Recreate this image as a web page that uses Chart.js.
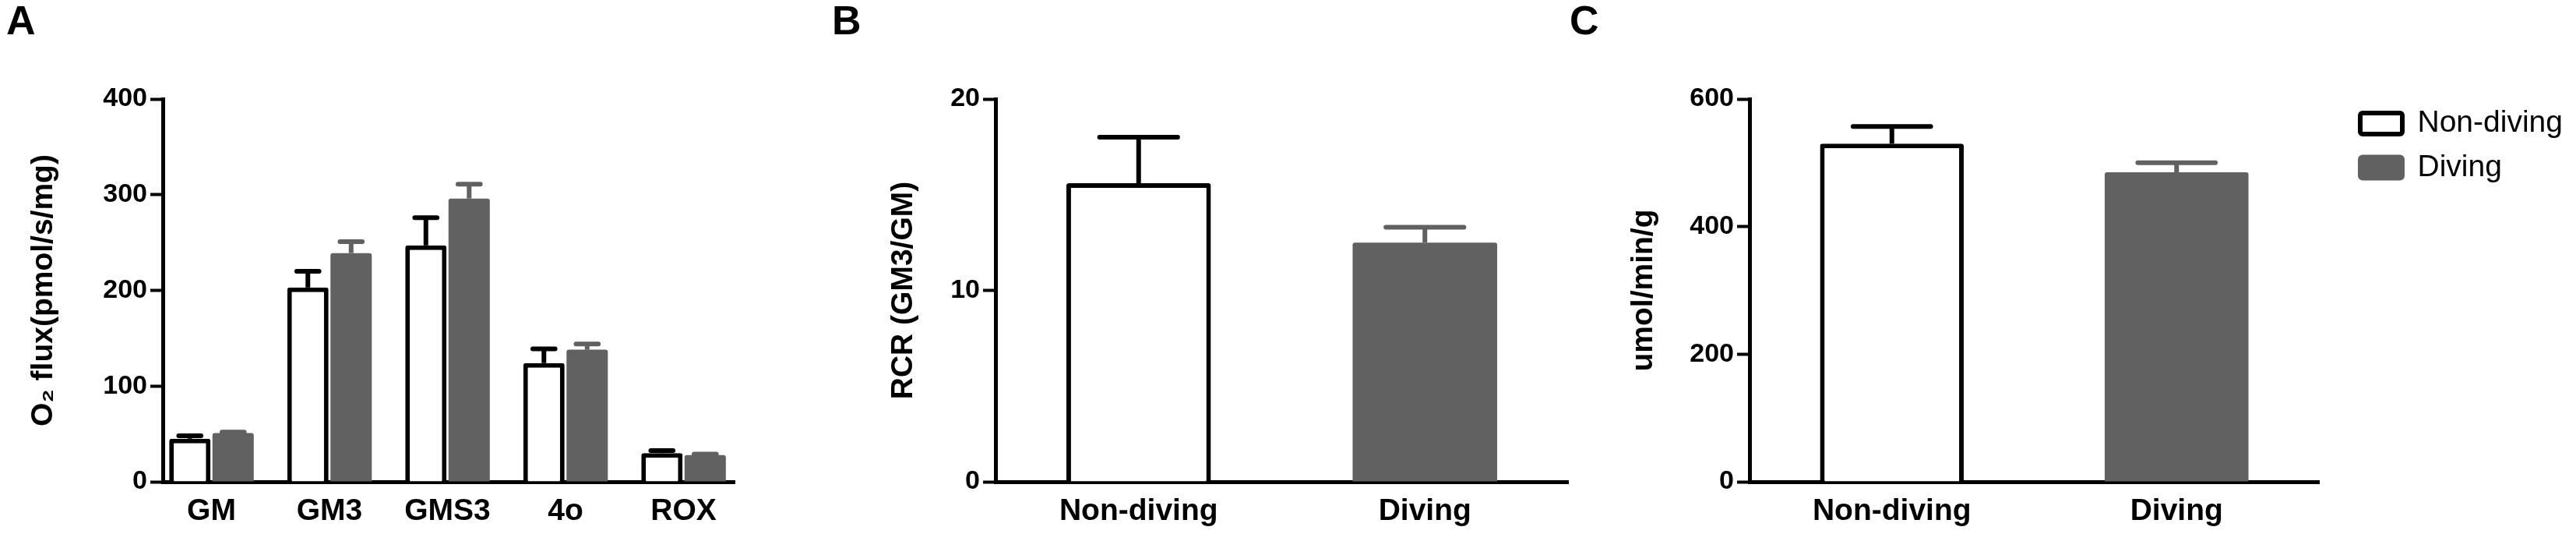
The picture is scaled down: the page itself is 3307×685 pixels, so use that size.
<!DOCTYPE html>
<html>
<head>
<meta charset="utf-8">
<title>Mitochondrial respiration</title>
<script src="https://cdn.jsdelivr.net/npm/chart.js@4.4.0/dist/chart.umd.min.js"></script>
<style>
  body { margin: 0; background: #fff; }
  #wrap { position: relative; width: 3307px; height: 685px; overflow: hidden; }
  .panel { position: absolute; top: 0; height: 685px; }
</style>
</head>
<body>
<div id="wrap">
  <div class="panel" style="left:0;width:1000px"><canvas id="fluxchart"></canvas></div>
  <div class="panel" style="left:1060px;width:1000px"><canvas id="rcrchart"></canvas></div>
  <div class="panel" style="left:2007px;width:1300px"><canvas id="ratechart"></canvas></div>
</div>
<script>
// values
var categories = ['GM', 'GM3', 'GMS3', '4o', 'ROX'];
var groups = ['Non-diving', 'Diving'];

var fluxNonDiving = [45, 203, 247, 124, 30];
var fluxNonDivingErr = [3, 17, 29, 15, 2.5];
var fluxDiving = [51, 239, 296, 138, 28];
var fluxDivingErr = [1, 12, 15, 6, 1];

var rcr = [15.6, 12.5];
var rcrErr = [2.4, 0.8];

var rate = [530, 485];
var rateErr = [27, 15];

var fluxTicks = [0, 100, 200, 300, 400];
var rcrTicks = [0, 10, 20];
var rateTicks = [0, 200, 400, 600];

var gray = '#616161';
var fontFamily = "'Liberation Sans', Arial, Helvetica, sans-serif";

Chart.defaults.font.family = fontFamily;
Chart.defaults.color = '#000';

var styles = [
  { backgroundColor: '#ffffff', borderColor: '#000', borderWidth: 6, errorColor: '#000' },
  { backgroundColor: gray, borderColor: gray, borderWidth: 0, errorColor: gray }
];

// upward-only error bars, drawn through the y scale
var errorBars = {
  id: 'errorBars',
  afterDatasetsDraw: function (chart) {
    var ctx = chart.ctx, yScale = chart.scales.y;
    chart.data.datasets.forEach(function (ds, i) {
      if (!ds.errors) return;
      chart.getDatasetMeta(i).data.forEach(function (bar, j) {
        var v = ds.data[j];
        if (v && typeof v === 'object') v = v.y;
        if (v == null || ds.errors[j] == null) return;
        var top = yScale.getPixelForValue(v + ds.errors[j]);
        var half = bar.width * 0.27;
        ctx.save();
        ctx.strokeStyle = ds.errorColor;
        ctx.lineWidth = 6;
        ctx.beginPath();
        ctx.moveTo(bar.x, bar.y);
        ctx.lineTo(bar.x, top);
        ctx.stroke();
        ctx.lineCap = 'round';
        ctx.beginPath();
        ctx.moveTo(bar.x - half, top);
        ctx.lineTo(bar.x + half, top);
        ctx.stroke();
        ctx.restore();
      });
    });
  }
};

// push the legend a bit away from the plot, like the original
var legendNudge = {
  id: 'legendNudge',
  afterLayout: function (chart) {
    var lg = chart.legend;
    if (!lg || !lg.options.display) return;
    lg.left += 35.5;
    lg.right = chart.width;
    lg.width = lg.right - lg.left;
    lg.top -= 5.5;
    lg.bottom -= 5.5;
  }
};

function panelTitle(letter) {
  return {
    display: true, text: letter, align: 'start', color: '#000',
    font: { size: 52, weight: 'bold', lineHeight: 1 },
    padding: { top: 4, bottom: 71 }
  };
}

function tickSetter(list) {
  return function (scale) {
    scale.ticks = list.map(function (v) { return { value: v }; });
  };
}

function yScale(list, title, titlePad, width) {
  return {
    min: list[0], max: list[list.length - 1],
    afterBuildTicks: tickSetter(list),
    ticks: { font: { size: 34, weight: 'bold' }, padding: 4, color: '#000' },
    grid: { drawOnChartArea: false, tickLength: 16, tickWidth: 4, tickColor: '#000' },
    border: { color: '#000', width: 5 },
    title: { display: true, text: title, color: '#000', font: { size: 39, weight: 'bold' }, padding: { top: titlePad, bottom: 0 } },
    afterFit: function (s) { s.width = width; }
  };
}

var xTicks = { font: { size: 39, weight: 'bold' }, padding: 15, color: '#000', autoSkip: false, maxRotation: 0 };

function pairDatasets(values, errs) {
  return groups.map(function (g, k) {
    return Object.assign({
      label: g,
      data: values.map(function (v, i) { return i === k ? v : null; }),
      errors: errs.map(function (e, i) { return i === k ? e : null; }),
      grouped: false,
      categoryPercentage: 1,
      barPercentage: 0.505,
      borderRadius: 3
    }, styles[k]);
  });
}

var baseOpts = {
  devicePixelRatio: 1,
  responsive: true,
  maintainAspectRatio: false,
  animation: false,
  events: []
};

// A: O2 flux
var fluxSets = [fluxNonDiving, fluxDiving];
var fluxErrs = [fluxNonDivingErr, fluxDivingErr];
new Chart(document.getElementById('fluxchart'), {
  type: 'bar',
  data: {
    datasets: groups.map(function (g, k) {
      return Object.assign({
        label: g,
        data: fluxSets[k].map(function (v, i) { return { x: i, y: v }; }),
        errors: fluxErrs[k],
        categoryPercentage: 0.733,
        barPercentage: 0.955,
        borderRadius: 3
      }, styles[k]);
    })
  },
  options: Object.assign({}, baseOpts, {
    layout: { padding: { left: 8, right: 57, top: 0, bottom: 0 } },
    plugins: { legend: { display: false }, tooltip: { enabled: false }, title: panelTitle('A') },
    scales: {
      x: {
        type: 'linear', offset: false, min: -0.4125, max: 4.432,
        afterBuildTicks: tickSetter(categories.map(function (c, i) { return i; })),
        ticks: Object.assign({ callback: function (v) { return categories[v]; } }, xTicks),
        grid: { display: false, drawTicks: false },
        border: { display: true, color: '#000', width: 5 },
        afterFit: function (s) { s.height = 67; }
      },
      y: yScale(fluxTicks, 'O\u2082 flux(pmol/s/mg)', 25, 201)
    }
  }),
  plugins: [errorBars]
});

// B: RCR
new Chart(document.getElementById('rcrchart'), {
  type: 'bar',
  data: { labels: groups, datasets: pairDatasets(rcr, rcrErr) },
  options: Object.assign({}, baseOpts, {
    layout: { padding: { left: 8, right: 47, top: 0, bottom: 0 } },
    plugins: { legend: { display: false }, tooltip: { enabled: false }, title: panelTitle('B') },
    scales: {
      x: {
        ticks: xTicks,
        grid: { display: false, drawTicks: false },
        border: { display: true, color: '#000', width: 5 },
        afterFit: function (s) { s.height = 67; }
      },
      y: yScale(rcrTicks, 'RCR (GM3/GM)', 69, 210)
    }
  }),
  plugins: [errorBars]
});

// C: rate, with the legend
new Chart(document.getElementById('ratechart'), {
  type: 'bar',
  data: { labels: groups, datasets: pairDatasets(rate, rateErr) },
  options: Object.assign({}, baseOpts, {
    layout: { padding: { left: 8, right: 130, top: 0, bottom: 0 } },
    plugins: {
      tooltip: { enabled: false },
      title: panelTitle('C'),
      legend: {
        display: true, position: 'right', align: 'start', fullSize: false, maxWidth: 200,
        labels: {
          boxWidth: 54, boxHeight: 27, padding: 17.5, color: '#000',
          font: { size: 39, weight: 'normal' },
          generateLabels: function (chart) {
            return chart.data.datasets.map(function (ds, i) {
              return {
                text: ds.label, fillStyle: ds.backgroundColor, strokeStyle: ds.errorColor,
                lineWidth: 6, lineJoin: 'round', borderRadius: 3, datasetIndex: i, hidden: false
              };
            });
          }
        }
      }
    },
    scales: {
      x: {
        ticks: xTicks,
        grid: { display: false, drawTicks: false },
        border: { display: true, color: '#000', width: 5 },
        afterFit: function (s) { s.height = 67; }
      },
      y: yScale(rateTicks, 'umol/min/g', 72, 231)
    }
  }),
  plugins: [errorBars, legendNudge]
});
</script>
</body>
</html>
